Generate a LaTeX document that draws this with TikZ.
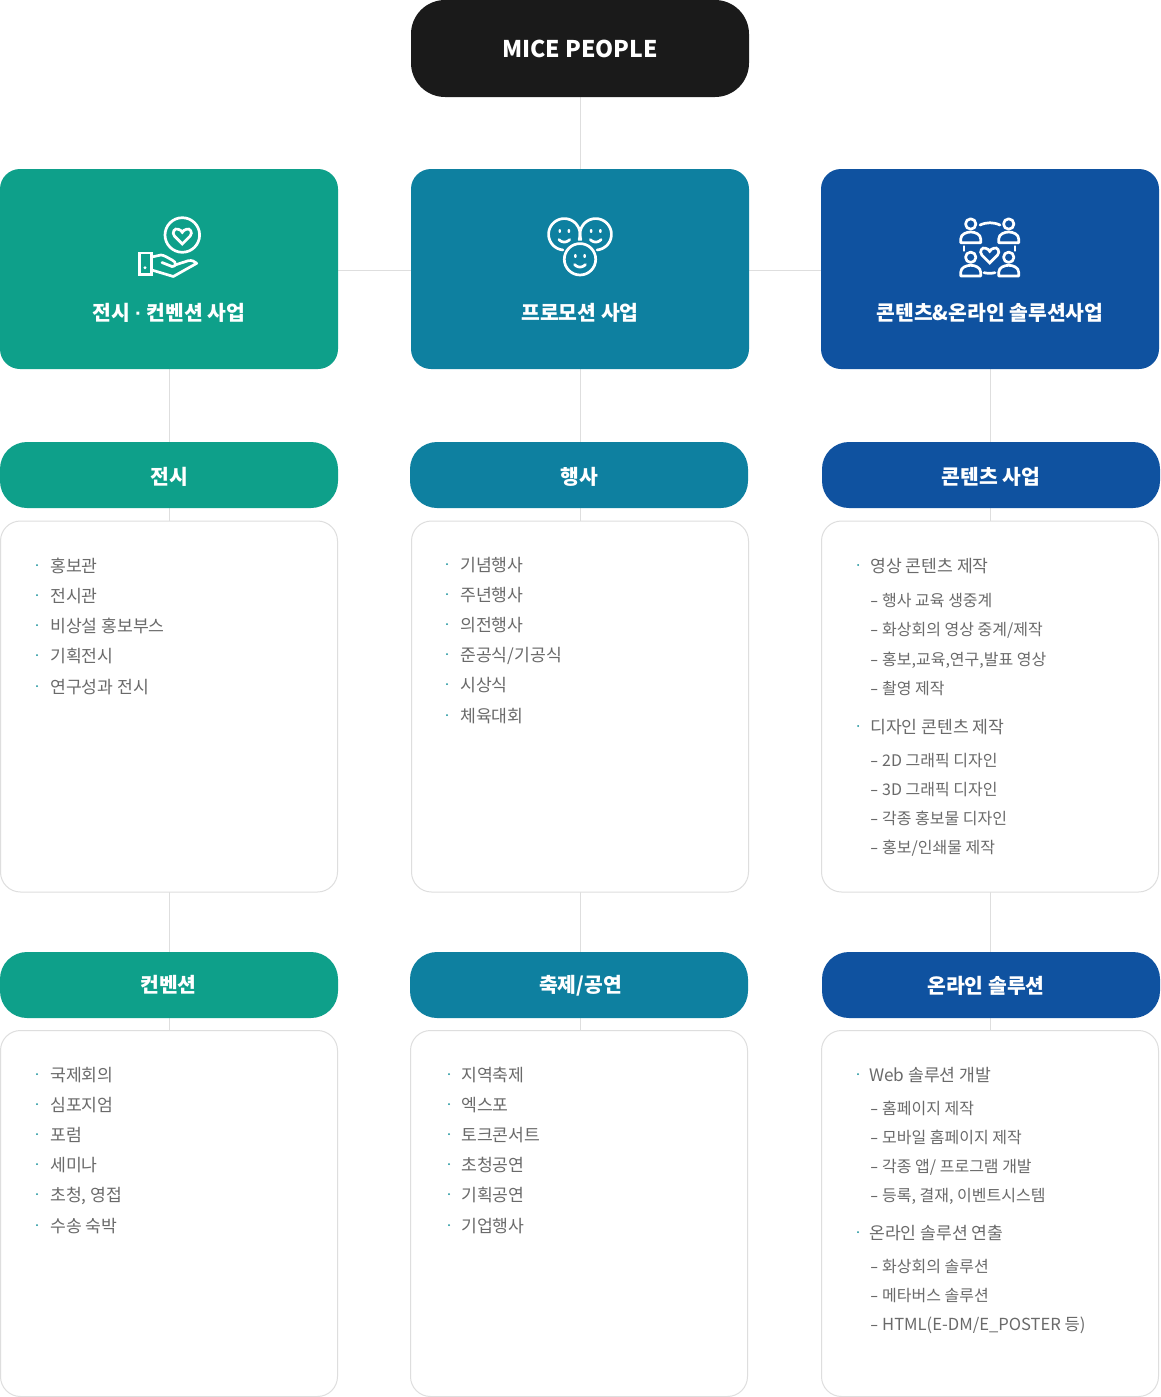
\documentclass[tikz,border=0pt]{standalone}
\usepackage{fontspec}
\setmainfont{Noto Sans CJK KR}
\newfontfamily\dotfont{Liberation Sans}
\usetikzlibrary{backgrounds}
\definecolor{cgreen}{HTML}{0EA08A}
\definecolor{cteal}{HTML}{0E80A0}
\definecolor{cblue}{HTML}{0F52A0}
\definecolor{cblack}{HTML}{1A1A1A}
\definecolor{cline}{HTML}{DEDEDE}
\definecolor{ctext}{HTML}{6A6A6A}
\newcounter{itemc}
\newcommand{\bulitem}[4]{% bullet x, text x, y, text
  \stepcounter{itemc}
  \fill[cteal!60!cgreen] (#1,#3) circle (1.0);
  \node[itemtext] (t\arabic{itemc}) at (#2,#3+7) {#4};}
\newcommand{\sublist}[3]{%
  \stepcounter{itemc}
  \node[subtext] (t\arabic{itemc}) at (#1,#2+7.3) {\makebox[12pt][l]{\scalebox{1.5}[1]{-}}#3};}
\newcommand{\heartat}[3]{% cx cy scale
  \draw[icon,line join=miter] (#1,#2+#3*8)
    -- (#1-#3*7.5,#2+#3*0.5)
    .. controls (#1-#3*10.5,#2-#3*3) and (#1-#3*7,#2-#3*7.5) .. (#1-#3*4,#2-#3*6)
    .. controls (#1-#3*2,#2-#3*5.5) and (#1-#3*0.8,#2-#3*4.5) .. (#1,#2-#3*3)
    .. controls (#1+#3*0.8,#2-#3*4.5) and (#1+#3*2,#2-#3*5.5) .. (#1+#3*4,#2-#3*6)
    .. controls (#1+#3*7,#2-#3*7.5) and (#1+#3*10.5,#2-#3*3) .. (#1+#3*7.5,#2+#3*0.5)
    -- cycle;}
\newcommand{\arcpts}[5]{% cx cy r from to
  \draw[icon,domain=#4:#5,samples=60,variable=\t] plot ({#1+#3*cos(\t)},{#2+#3*sin(\t)});}
\newcommand{\smiley}[2]{%
  \fill[white,rounded corners=0.8pt] (#1-5.8,#2-5.8) rectangle (#1-3.4,#2-2.2);
  \fill[white,rounded corners=0.8pt] (#1+3.4,#2-5.8) rectangle (#1+5.8,#2-2.2);
  \arcpts{#1}{#2}{7}{40}{140}}
\newcommand{\person}[2]{%
  \draw[icon] (#1,#2) circle (5.2);
  \draw[icon] (#1-10,#2+18.7) -- (#1-10,#2+15)
    .. controls (#1-10,#2+10) and (#1-4,#2+8) .. (#1,#2+8)
    .. controls (#1+4,#2+8) and (#1+10,#2+10) .. (#1+10,#2+15)
    -- (#1+10,#2+18.7) -- cycle;}
\tikzset{
  x=1pt,y=-1pt,
  base/.style={rectangle,inner sep=0pt,outer sep=0pt},
  rootbox/.style={base,text=white,fill=cblack,rounded corners=34pt,minimum width=338pt,minimum height=97pt,font=\bfseries\fontsize{23}{28}\selectfont},
  card/.style={base,rounded corners=20pt,minimum width=338pt,minimum height=200pt},
  pill/.style={base,rounded corners=27pt,minimum width=338pt,minimum height=66pt},
  panel/.style={rectangle,draw=cline,line width=1pt,fill=white,rounded corners=20pt,inner sep=0pt,outer sep=0pt,minimum width=337pt},
  label/.style={text=white,inner sep=0pt,text height=16pt,text depth=4pt,font=\bfseries\fontsize{20.4}{24}\selectfont},
  itemtext/.style={anchor=base west,inner sep=0pt,text=ctext,font=\fontsize{17.2}{20}\selectfont},
  subtext/.style={itemtext,font=\fontsize{16}{20}\selectfont},
  conn/.style={draw=cline,line width=1pt},
  icon/.style={draw=white,line width=2.7pt,line cap=round,line join=round},
}
\begin{document}
\begin{tikzpicture}
\useasboundingbox (0,0) rectangle (1160,1397);
% main nodes
\node[rootbox] (root) at (580,48.5) {MICE PEOPLE};
\node[card,fill=cgreen] (c1) at (169,269) {};
\node[card,fill=cteal]  (c2) at (580,269) {};
\node[card,fill=cblue]  (c3) at (990,269) {};
\node[label] (c1t) at (169,314.7) {전시 {\dotfont\bfseries ·} 컨벤션 사업};
\node[label] (c2t) at (580,314.7) {프로모션 사업};
\node[label] (c3t) at (990,314.7) {콘텐츠\&온라인 솔루션사업};
\node[pill,fill=cgreen] (p1) at (169,475) {};
\node[pill,fill=cteal]  (p2) at (579,475) {};
\node[pill,fill=cblue]  (p3) at (991,475) {};
\node[label] (p1t) at (169.5,478.7) {전시};
\node[label] (p2t) at (579,478.7) {행사};
\node[label] (p3t) at (991,478.7) {콘텐츠 사업};
\node[panel,minimum height=371pt] (b1) at (169,706.5) {};
\node[panel,minimum height=371pt] (b2) at (580,706.5) {};
\node[panel,minimum height=371pt] (b3) at (990,706.5) {};
\node[pill,fill=cgreen] (q1) at (169,985) {};
\node[pill,fill=cteal]  (q2) at (579,985) {};
\node[pill,fill=cblue]  (q3) at (991,985) {};
\node[label] (q1t) at (168.5,986.7) {컨벤션};
\node[label] (q2t) at (580.5,986.7) {축제/공연};
\node[label] (q3t) at (986,987.7) {온라인 솔루션};
\node[panel,minimum height=366pt] (d1) at (169,1213.5) {};
\node[panel,minimum height=366pt] (d2) at (579,1213.5) {};
\node[panel,minimum height=366pt] (d3) at (990,1213.5) {};
% connectors
\begin{scope}[on background layer]
\fill[white] (0,0) rectangle (1160,1397);
\draw[conn] (root.south) -- (c2.north);
\draw[conn] (c1.east |- 0,270) -- (c2.west |- 0,270);
\draw[conn] (c2.east |- 0,270) -- (c3.west |- 0,270);
\draw[conn] (c1.south) -- (p1.north);
\draw[conn] (c2.south) -- (c2.south |- p2.north);
\draw[conn] (c3.south) -- (c3.south |- p3.north);
\draw[conn] (p1.south) -- (b1.north);
\draw[conn] (b2.north |- p2.south) -- (b2.north);
\draw[conn] (b3.north |- p3.south) -- (b3.north);
\draw[conn] (b1.south) -- (q1.north);
\draw[conn] (b2.south) -- (b2.south |- q2.north);
\draw[conn] (b3.south) -- (b3.south |- q3.north);
\draw[conn] (q1.south) -- (d1.north);
\draw[conn] (b2.south |- q2.south) -- (b2.south |- d2.north);
\draw[conn] (b3.south |- q3.south) -- (b3.south |- d3.north);
\end{scope}
% icon 1: hand and heart
\draw[icon] (182.3,235) circle (17.3);
\heartat{182.3}{235.5}{1.05}
\draw[icon,line join=miter] (139.5,253) rectangle (151.5,274.5);
\fill[white] (145,267.7) circle (1.7);
\draw[icon] (151.7,257) -- (161,255) .. controls (164,255) and (169,258.5) .. (172,260)
  .. controls (177,262) and (176,267) .. (172,266.5) -- (162,262.5);
\draw[icon] (175,265) -- (188.3,260.7) .. controls (192,260) and (195,261.5) .. (196.7,263.3)
  -- (173.3,276.5) -- (151.7,270);
% icon 2: smileys
\arcpts{564.3}{234.3}{15.7}{20}{-265}
\arcpts{595.7}{234.3}{15.7}{160}{445}
\draw[icon] (580,259.3) circle (15.7);
\smiley{564.3}{235}
\smiley{595.7}{235}
\smiley{580}{260}
% icon 3: people
\person{970.7}{224}
\person{1008.7}{224}
\person{970.7}{257.3}
\person{1008.7}{257.3}
\draw[icon] (980,225) .. controls (987,222) and (993,222) .. (1000,225);
\draw[icon] (984,272.7) .. controls (988,273.5) and (991,273.5) .. (995,272.7);
\draw[icon] (964,246.5) -- (964,250.5);
\draw[icon] (1015,246.5) -- (1015,250.5);
\heartat{989.7}{254.5}{1.05}
% lists
\bulitem{37}{50}{565}{홍보관}
\bulitem{37}{50}{595}{전시관}
\bulitem{37}{50}{625}{비상설 홍보부스}
\bulitem{37}{50}{655}{기획전시}
\bulitem{37}{50}{686}{연구성과 전시}
\bulitem{447}{460}{564}{기념행사}
\bulitem{447}{460}{594}{주년행사}
\bulitem{447}{460}{624}{의전행사}
\bulitem{447}{460}{654}{준공식/기공식}
\bulitem{447}{460}{684}{시상식}
\bulitem{447}{460}{715}{체육대회}
\bulitem{858}{870}{565}{영상 콘텐츠 제작}
\sublist{870}{599}{행사 교육 생중계}
\sublist{870}{628}{화상회의 영상 중계/제작}
\sublist{870}{658}{홍보,교육,연구,발표 영상}
\sublist{870}{687}{촬영 제작}
\bulitem{858}{870}{726}{디자인 콘텐츠 제작}
\sublist{870}{759}{2D 그래픽 디자인}
\sublist{870}{788}{3D 그래픽 디자인}
\sublist{870}{817}{각종 홍보물 디자인}
\sublist{870}{846}{홍보/인쇄물 제작}
\bulitem{37}{50}{1074}{국제회의}
\bulitem{37}{50}{1104}{심포지엄}
\bulitem{37}{50}{1134}{포럼}
\bulitem{37}{50}{1164}{세미나}
\bulitem{37}{50}{1194}{초청, 영접}
\bulitem{37}{50}{1225}{수송 숙박}
\bulitem{449}{461}{1074}{지역축제}
\bulitem{449}{461}{1104}{엑스포}
\bulitem{449}{461}{1134}{토크콘서트}
\bulitem{449}{461}{1164}{초청공연}
\bulitem{449}{461}{1194}{기획공연}
\bulitem{449}{461}{1225}{기업행사}
\bulitem{858}{869}{1074}{Web 솔루션 개발}
\sublist{870}{1107}{홈페이지 제작}
\sublist{870}{1136}{모바일 홈페이지 제작}
\sublist{870}{1165}{각종 앱/ 프로그램 개발}
\sublist{870}{1194}{등록, 결재, 이벤트시스템}
\bulitem{858}{869}{1232}{온라인 솔루션 연출}
\sublist{870}{1265}{화상회의 솔루션}
\sublist{870}{1294}{메타버스 솔루션}
\sublist{870}{1323}{\fontsize{16.6}{20}\selectfont HTML(E-DM/E\_POSTER 등)}
\end{tikzpicture}
\end{document}
